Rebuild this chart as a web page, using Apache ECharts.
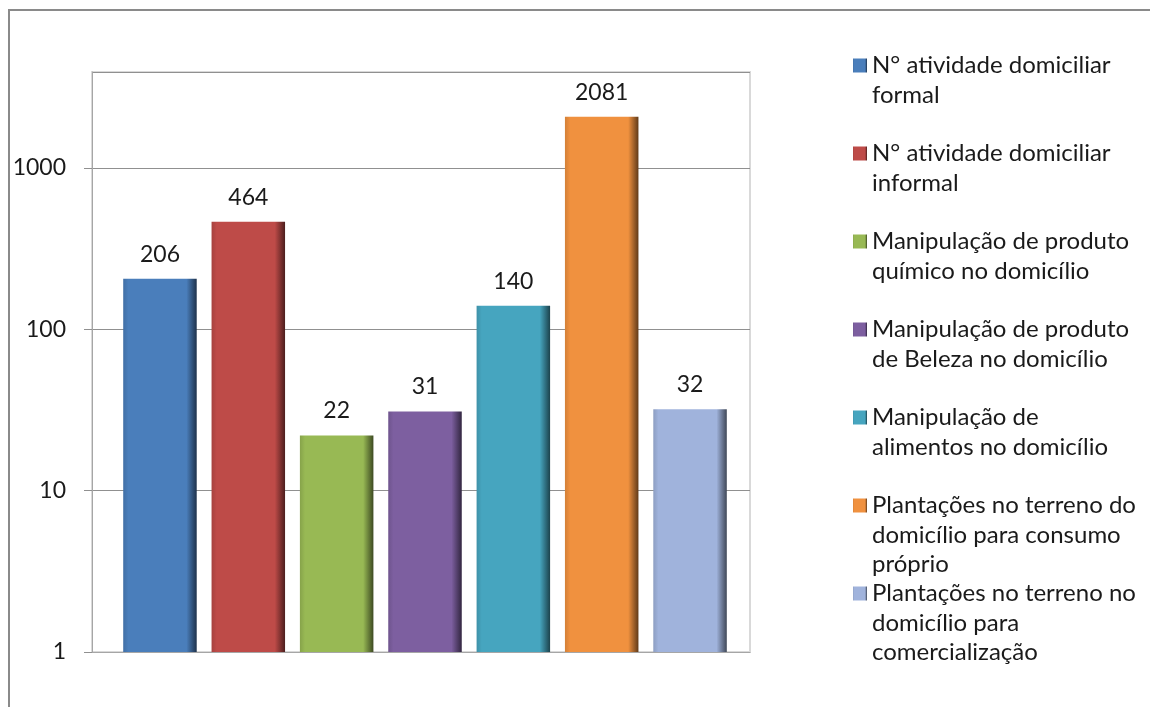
<!DOCTYPE html>
<html>
<head>
<meta charset="utf-8">
<script src="https://cdn.jsdelivr.net/npm/echarts@6/dist/echarts.min.js"></script>
<style>
    html, body { margin: 0; padding: 0; background: #fff; }
    #chart { width: 1150px; height: 707px; }
</style>
</head>
<body>
<div id="chart"></div>
<script>
// legend names (line breaks as in the picture)
const seriesNames = [
    'N° atividade domiciliar\nformal',
    'N° atividade domiciliar\ninformal',
    'Manipulação de produto\nquímico no domicílio',
    'Manipulação de produto\nde Beleza no domicílio',
    'Manipulação de\nalimentos no domicílio',
    'Plantações no terreno do\ndomicílio para consumo\npróprio',
    'Plantações no terreno no\ndomicílio para\ncomercialização'
]
const values = [206, 464, 22, 31, 140, 2081, 32]
const barColors = ['#4a7ebb', '#be4b48', '#98b954', '#7d5fa0', '#46a5bf', '#f0913f', '#a0b3dc']
const categories = ['']
const yMin = 1
const yMax = 3936

const FONT = 'Lato'
const LINE_H = 29.3

// darken a hex colour by a factor
const shade = (hex, f) => {
    const n = parseInt(hex.slice(1), 16)
    const r = Math.round(((n >> 16) & 255) * (1 - f))
    const g = Math.round(((n >> 8) & 255) * (1 - f))
    const b = Math.round((n & 255) * (1 - f))
    return 'rgb(' + r + ',' + g + ',' + b + ')'
}

const bevel = (c) => new echarts.graphic.LinearGradient(0, 0, 1, 0, [
    { offset: 0, color: shade(c, 0.12) },
    { offset: 0.07, color: c },
    { offset: 0.86, color: c },
    { offset: 1, color: shade(c, 0.6) }
])

// keep the icon on the first line of a wrapped legend entry
const nLines = (name) => name.split('\n').length
const legendText = (name) => '\n'.repeat(nLines(name) - 1) + name

const legendBase = {
    orient: 'vertical',
    left: 853,
    padding: 0,
    itemGap: 0,
    itemWidth: 14,
    itemHeight: 14,
    icon: 'rect',
    formatter: legendText,
    textStyle: { fontFamily: FONT, fontSize: 24, lineHeight: LINE_H, color: '#1a1a1a' }
}

// one legend block per entry so every first line sits 88px below the previous one
const legends = seriesNames.map((name, i) => Object.assign({}, legendBase, {
    top: 65.5 + 88 * i - (nLines(name) - 0.5) * LINE_H,
    data: [name]
}))

const logAxis = (visible) => ({
    type: 'log',
    gridIndex: visible ? 0 : 1,
    min: yMin,
    max: yMax,
    logBase: 10,
    show: visible,
    axisLine: { show: true, lineStyle: { color: '#a6a6a6' } },
    axisTick: { show: true, length: 8, lineStyle: { color: '#909090' } },
    splitLine: { show: visible, lineStyle: { color: '#909090' } },
    axisLabel: {
        showMaxLabel: false,
        margin: 26,
        fontFamily: FONT,
        fontSize: 23,
        color: '#1a1a1a',
        formatter: (v) => String(v)
    }
})

const chart = echarts.init(document.getElementById('chart'))
chart.setOption({
    animation: false,
    graphic: [{
        type: 'rect',
        shape: { x: 9, y: 10, width: 1300, height: 900 },
        style: { fill: 'none', stroke: '#8a8a8a', lineWidth: 2 },
        silent: true
    }],
    legend: legends,
    grid: [
        // back wall and gridlines
        { left: 92, right: 400, top: 72, bottom: 55, show: true, borderColor: '#d9d9d9', borderWidth: 2 },
        // bars sit a little to the right, as in the 3D original
        { left: 96, right: 396, top: 72, bottom: 55 }
    ],
    xAxis: [
        {
            type: 'category',
            gridIndex: 0,
            data: categories,
            axisLine: { lineStyle: { color: '#a6a6a6' } },
            axisTick: { length: 8, lineStyle: { color: '#a6a6a6' } },
            axisLabel: { show: false }
        },
        { type: 'category', gridIndex: 1, data: categories, show: false }
    ],
    yAxis: [logAxis(true), logAxis(false)],
    series: seriesNames.map((name, i) => ({
        name: name,
        type: 'bar',
        xAxisIndex: 1,
        yAxisIndex: 1,
        data: [values[i]],
        barWidth: 73.5,
        barGap: '20.2%',
        itemStyle: { color: bevel(barColors[i]) },
        label: {
            show: true,
            position: 'top',
            distance: 13,
            fontFamily: FONT,
            fontSize: 23,
            color: '#1a1a1a'
        }
    }))
})
</script>
</body>
</html>
